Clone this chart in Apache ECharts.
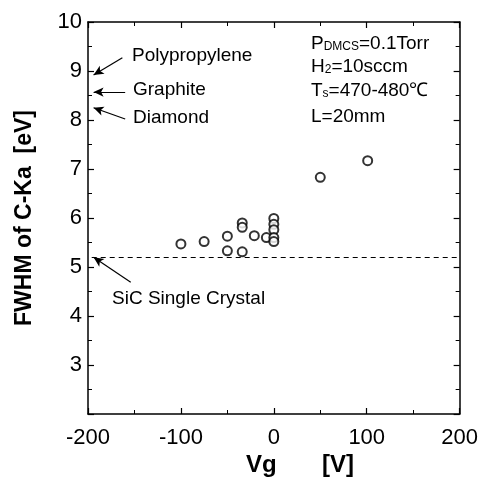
<!DOCTYPE html>
<html>
<head>
<meta charset="utf-8">
<script src="https://cdn.jsdelivr.net/npm/echarts@6/dist/echarts.min.js"></script>
<style>
  html, body { margin: 0; padding: 0; background: #fff; }
  #main { width: 481px; height: 491px; }
</style>
</head>
<body>
<div id="main"></div>
<script>
  // measured points, Vg [V] vs FWHM [eV]
  var vg   = [-100, -75, -50, -50, -34, -34, -34, -21, -8, 0, 0, 0, 0, 0, 50, 101];
  var fwhm = [5.47, 5.52, 5.63, 5.33, 5.90, 5.81, 5.31, 5.64, 5.60, 5.99, 5.87, 5.76, 5.60, 5.52, 6.83, 7.17];

  // reference materials (arrows on the left axis)
  var refNames  = ['Polypropylene', 'Graphite', 'Diamond', 'SiC Single Crystal'];
  var refValues = [8.92, 8.57, 8.25, 5.2];

  var font = '"Liberation Sans", Arial, sans-serif';

  var points = [];
  for (var i = 0; i < vg.length; i++) {
    points.push([vg[i], fwhm[i]]);
  }

  // arrow tails (data coords), tip sits on the reference value
  var tails = [[-163, 9.27], [-160, 8.57], [-160, 8.02], [-154, 4.69]];
  var arrows = [];
  for (var j = 0; j < refValues.length; j++) {
    arrows.push([
      { coord: tails[j], symbol: 'none' },
      { coord: [-194, refValues[j]], symbol: 'arrow' }
    ]);
  }

  var chart = echarts.init(document.getElementById('main'));
  function axisStyle(extra) {
    return Object.assign({
      axisLine: { show: true, onZero: false, lineStyle: { color: '#000', width: 1.5 } },
      axisTick: { show: true, inside: true, length: 6, lineStyle: { color: '#000', width: 1.2 } },
      minorTick: { show: true, splitNumber: 2, length: 4, lineStyle: { color: '#000', width: 1 } },
      splitLine: { show: false }
    }, extra);
  }
  var sub = {
    n: { font: '19px ' + font, fill: '#000' },
    s: { font: '12px ' + font, fill: '#000', verticalAlign: 'bottom' }
  };

  chart.setOption({
    animation: false,
    backgroundColor: '#fff',
    grid: { left: 88, right: 20, top: 22, bottom: 77 },
    xAxis: [
      axisStyle({
        type: 'value', min: -200, max: 200, interval: 100, position: 'bottom',
        axisLabel: { color: '#000', fontSize: 22, fontFamily: font, margin: 13 }
      }),
      axisStyle({
        type: 'value', min: -200, max: 200, interval: 100, position: 'top',
        axisLabel: { show: false }
      })
    ],
    yAxis: [
      axisStyle({
        type: 'value', min: 2, max: 10, interval: 1, position: 'left',
        name: 'FWHM of C-Ka  [eV]', nameLocation: 'middle', nameGap: 52,
        nameTextStyle: { color: '#000', fontSize: 23, fontWeight: 'bold', fontFamily: font },
        axisLabel: { color: '#000', fontSize: 22, fontFamily: font, margin: 6,
          formatter: function (v) { return v === 2 ? '' : v; } }
      }),
      axisStyle({
        type: 'value', min: 2, max: 10, interval: 1, position: 'right',
        axisLabel: { show: false }
      })
    ],
    graphic: [
      { type: 'text', left: 246, top: 453, style: { text: 'Vg', font: 'bold 24px ' + font, fill: '#000' } },
      { type: 'text', left: 322, top: 453, style: { text: '[V]', font: 'bold 24px ' + font, fill: '#000' } },
      { type: 'text', left: 132, top: 46, style: { text: refNames[0], font: '19px ' + font, fill: '#000' } },
      { type: 'text', left: 133, top: 80, style: { text: refNames[1], font: '19px ' + font, fill: '#000' } },
      { type: 'text', left: 133, top: 108, style: { text: refNames[2], font: '19px ' + font, fill: '#000' } },
      { type: 'text', left: 112, top: 289, style: { text: refNames[3], font: '19px ' + font, fill: '#000' } },
      { type: 'text', left: 311, top: 34, style: { text: '{n|P}{s|DMCS}{n|=0.1Torr}', rich: sub } },
      { type: 'text', left: 311, top: 57, style: { text: '{n|H}{s|2}{n|=10sccm}', rich: sub } },
      { type: 'text', left: 311, top: 81, style: { text: '{n|T}{s|s}{n|=470-480℃}', rich: sub } },
      { type: 'text', left: 311, top: 107, style: { text: 'L=20mm', font: '19px ' + font, fill: '#000' } }
    ],
    series: [
      {
        type: 'scatter',
        data: points,
        symbol: 'emptyCircle',
        symbolSize: 9,
        itemStyle: { color: '#000', borderColor: '#000', borderWidth: 1.8 },
        markLine: {
          silent: true,
          symbol: 'none',
          label: { show: false },
          lineStyle: { color: '#000', type: [5, 4], width: 1 },
          data: [[{ coord: [-196, refValues[3]] }, { coord: [200, refValues[3]] }]]
        }
      },
      {
        type: 'scatter',
        data: [],
        markLine: {
          silent: true,
          symbolSize: [7, 10],
          label: { show: false },
          lineStyle: { color: '#000', type: 'solid', width: 1.2 },
          itemStyle: { color: '#000' },
          data: arrows
        }
      }
    ]
  });
</script>
</body>
</html>
